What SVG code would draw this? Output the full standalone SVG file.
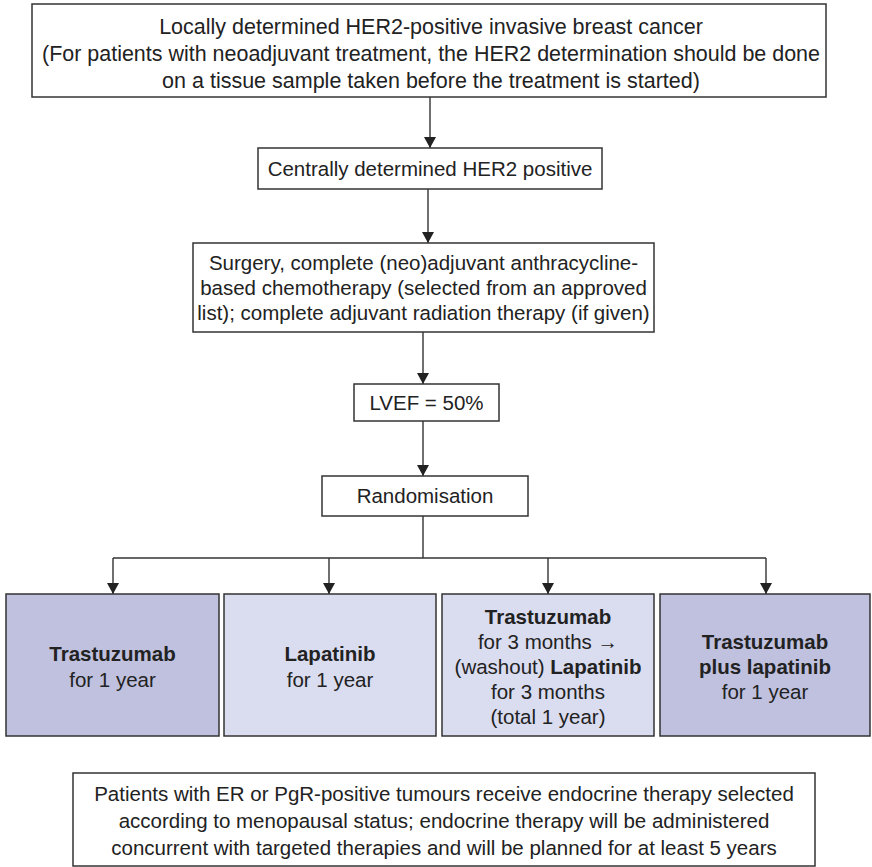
<svg xmlns="http://www.w3.org/2000/svg" width="872" height="867" viewBox="0 0 872 867">
  <defs>
    <marker id="arrow" markerUnits="userSpaceOnUse" markerWidth="12" markerHeight="12" refX="11" refY="6" orient="auto" viewBox="0 0 12 12">
      <path d="M0,0 L11,6 L0,12 z" fill="#222"/>
    </marker>
    <style>
      .box { fill: #ffffff; stroke: #333333; stroke-width: 1.5; }
      .dark { fill: #bfc1df; stroke: #333333; stroke-width: 1.5; }
      .light { fill: #dadcef; stroke: #333333; stroke-width: 1.5; }
      text { font-family: "Liberation Sans", Arial, Helvetica, sans-serif; font-size: 20.5px; fill: #222222; text-anchor: middle; }
      .top { font-size: 21.5px; }
      .b { font-weight: bold; }
      .conn { stroke: #333333; stroke-width: 1.4; fill: none; }
      .arr { marker-end: url(#arrow); }
    </style>
  </defs>

  <g id="connectors">
    <line class="conn arr" x1="430" y1="97" x2="430" y2="148"/>
    <line class="conn arr" x1="428" y1="189" x2="428" y2="243"/>
    <line class="conn arr" x1="423" y1="332" x2="423" y2="384"/>
    <line class="conn arr" x1="423" y1="421" x2="423" y2="476"/>
    <line class="conn" x1="423" y1="516" x2="423" y2="558"/>
    <line class="conn" x1="113" y1="558" x2="766" y2="558"/>
    <line class="conn arr" x1="113" y1="558" x2="113" y2="594"/>
    <line class="conn arr" x1="329" y1="558" x2="329" y2="594"/>
    <line class="conn arr" x1="548" y1="558" x2="548" y2="594"/>
    <line class="conn arr" x1="766" y1="558" x2="766" y2="594"/>
  </g>

  <g id="local-her2">
    <rect class="box" x="32" y="4" width="794" height="93"/>
    <text class="top" x="431" y="34">Locally determined HER2-positive invasive breast cancer</text>
    <text class="top" x="431" y="61" textLength="778" lengthAdjust="spacingAndGlyphs">(For patients with neoadjuvant treatment, the HER2 determination should be done</text>
    <text class="top" x="431" y="88">on a tissue sample taken before the treatment is started)</text>
  </g>

  <g id="central-her2">
    <rect class="box" x="258" y="148" width="344" height="41"/>
    <text x="430" y="176">Centrally determined HER2 positive</text>
  </g>

  <g id="surgery">
    <rect class="box" x="193" y="243" width="461" height="89"/>
    <text x="423.5" y="270">Surgery, complete (neo)adjuvant anthracycline-</text>
    <text x="423.5" y="295">based chemotherapy (selected from an approved</text>
    <text x="423.5" y="320">list); complete adjuvant radiation therapy (if given)</text>
  </g>

  <g id="lvef">
    <rect class="box" x="354" y="384" width="145" height="37"/>
    <text x="426.5" y="410">LVEF = 50%</text>
  </g>

  <g id="randomisation">
    <rect class="box" x="322" y="476" width="206" height="40"/>
    <text x="425" y="503">Randomisation</text>
  </g>

  <g id="arm-trastuzumab">
    <rect class="dark" x="6" y="594" width="213" height="142"/>
    <text x="112.5" y="661" class="b">Trastuzumab</text>
    <text x="112.5" y="687">for 1 year</text>
  </g>

  <g id="arm-lapatinib">
    <rect class="light" x="224" y="594" width="212" height="142"/>
    <text x="330" y="661" class="b">Lapatinib</text>
    <text x="330" y="687">for 1 year</text>
  </g>

  <g id="arm-sequence">
    <rect class="light" x="442" y="594" width="212" height="142"/>
    <text x="548" y="624" class="b">Trastuzumab</text>
    <text x="548" y="649">for 3 months →</text>
    <text x="548" y="674">(washout) <tspan class="b">Lapatinib</tspan></text>
    <text x="548" y="699">for 3 months</text>
    <text x="548" y="724">(total 1 year)</text>
  </g>

  <g id="arm-combination">
    <rect class="dark" x="660" y="594" width="210" height="142"/>
    <text x="765" y="649" class="b">Trastuzumab</text>
    <text x="765" y="674" class="b">plus lapatinib</text>
    <text x="765" y="699">for 1 year</text>
  </g>

  <g id="endocrine-note">
    <rect class="box" x="73" y="773" width="742" height="93"/>
    <text x="444" y="801">Patients with ER or PgR-positive tumours receive endocrine therapy selected</text>
    <text x="444" y="828">according to menopausal status; endocrine therapy will be administered</text>
    <text x="444" y="855">concurrent with targeted therapies and will be planned for at least 5 years</text>
  </g>
</svg>
